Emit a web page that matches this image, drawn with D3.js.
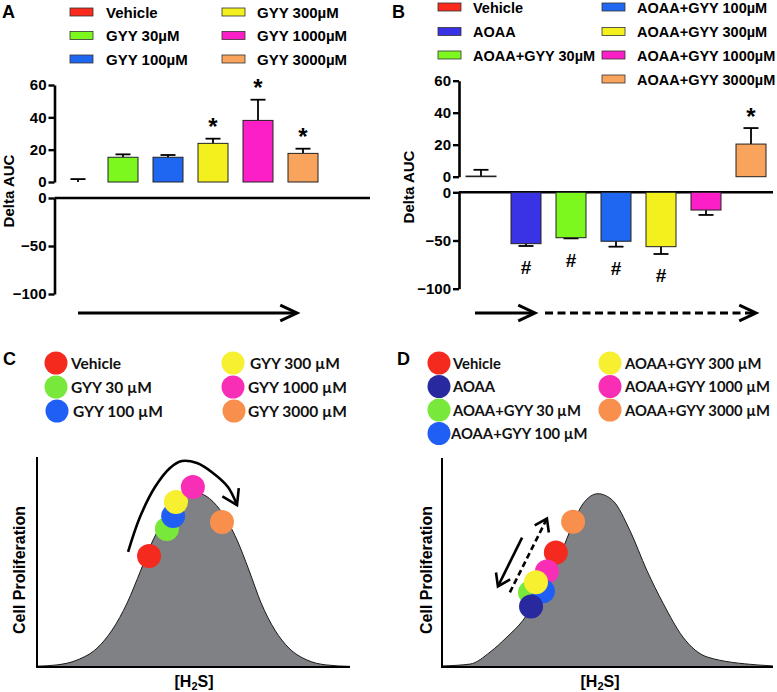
<!DOCTYPE html>
<html><head><meta charset="utf-8">
<script src="https://cdn.jsdelivr.net/npm/d3@7"></script>
<style>body{margin:0;background:#fff} svg{display:block}</style>
</head><body>
<svg id="chart" width="777" height="692"></svg>
<script>
// ---------- Data: panel A ----------
const catsA = ["Vehicle","GYY 30µM","GYY 100µM","GYY 300µM","GYY 1000µM","GYY 3000µM"];
const meanA = [0, 15.3, 15.3, 23.9, 38.1, 17.7];
const errA  = [1.8, 1.8, 1.4, 2.9, 12.8, 2.9];
const sigA  = ["", "", "", "*", "*", "*"];
const colorsA = ["#fb2a1c","#7cf81f","#1f66f0","#f4f01e","#fc1ec6","#f8a45c"];

// ---------- Data: panel B ----------
const catsB = ["Vehicle","AOAA","AOAA+GYY 30µM","AOAA+GYY 100µM","AOAA+GYY 300µM","AOAA+GYY 1000µM","AOAA+GYY 3000µM"];
const meanB = [0.4, -53.3, -47.1, -50.8, -56.4, -18.4, 20.4];
const errB  = [3.9, 2.4, 0.7, 5.6, 7.6, 5.1, 10];
const sigB  = ["", "#", "#", "#", "#", "", "*"];
const colorsB = ["#fb2a1c","#3a33e6","#7cf81f","#1f66f0","#f4f01e","#fc1ec6","#f8a45c"];

const ticksTop = [0, 20, 40, 60];
const ticksBottom = [-100, -50, 0];

// ---------- Data: panel C (schematic) ----------
const catsC = ["Vehicle","GYY 30 µM","GYY 100 µM","GYY 300 µM","GYY 1000 µM","GYY 3000 µM"];
const colorsC = ["#f42a1f","#78e83a","#1f5ff5","#f6f031","#f82fb6","#f98f4d"];
const ptsCx = [35.8, 41.5, 43.5, 44.4, 49.8, 59.1];
const ptsCy = [52.9, 65.7, 71.9, 78.6, 85.7, 69.0];
const curveCx = [0, 6.4, 12.8, 19.2, 24, 28.8, 33.2, 37.1, 43.1, 47.9, 51.1, 54, 58.5, 63.9, 67.7, 71.6, 76, 80.5, 86.3, 92.3, 100];
const curveCy = [0.4, 1, 3.3, 9, 17.6, 30.5, 46.2, 60.5, 74.8, 81.4, 82.9, 81.4, 74.8, 60.5, 46.2, 30.5, 17.6, 9, 3.3, 1, 0.3];
const arrowC = [[29.1,54.8],[32.9,71.4],[37.7,85.7],[42.5,94.8],[46.3,98.1],[51.1,97.1],[56.2,92.4],[61.0,85.7],[63.9,77.1]];

// ---------- Data: panel D (schematic) ----------
const catsD = ["Vehicle","AOAA","AOAA+GYY 30 µM","AOAA+GYY 100 µM","AOAA+GYY 300 µM","AOAA+GYY 1000 µM","AOAA+GYY 3000 µM"];
const colorsD = ["#f42a1f","#28289f","#78e83a","#1f5ff5","#f6f031","#f82fb6","#f98f4d"];
const ptsDx = [34.4, 26.9, 26.6, 30.5, 28.4, 31.7, 39.6];
const ptsDy = [54.8, 29.0, 35.7, 36.2, 40.5, 45.7, 69.5];
const drawOrderD = [6, 0, 5, 2, 3, 4, 1];
const curveDx = [0, 8.5, 14.5, 19.6, 24.5, 29.6, 34.7, 38.7, 42.6, 47.1, 51.7, 56.8, 61.9, 66.8, 72.8, 80.1, 95.2, 100];
const curveDy = [0.5, 1.4, 7.1, 14.3, 22.4, 35.2, 49.5, 65.2, 78.1, 82.9, 79.5, 65.2, 46.2, 30.5, 14.3, 4.8, 1, 0.5];
const arrowDsolid = [[24.2,61.9],[16.9,38.6]];
const arrowDdash = [[20.5,35.7],[31.7,71.0]];

// ---------- Drawing ----------
const svg = d3.select("#chart");
const ARIAL = "'Liberation Sans', Arial, Helvetica, sans-serif";
const CAL = "Lato, 'Open Sans', sans-serif";

function chevron(g, tip, angle, len, half, sw) {
  const a1 = angle + Math.PI - half, a2 = angle + Math.PI + half;
  const p = d3.path();
  p.moveTo(tip[0] + len*Math.cos(a1), tip[1] + len*Math.sin(a1));
  p.lineTo(tip[0], tip[1]);
  p.lineTo(tip[0] + len*Math.cos(a2), tip[1] + len*Math.sin(a2));
  g.append("path").attr("d", p.toString()).attr("fill","none").attr("stroke","#000")
    .attr("stroke-width", sw).attr("stroke-linejoin","miter").attr("stroke-linecap","butt");
}

function barPanel(cfg) {
  const g = svg.append("g");
  const x = d3.scaleBand().domain(cfg.cats).range(cfg.xRange).paddingInner(1/3).paddingOuter(1/6);
  const yT = d3.scaleLinear().domain([0, 60]).range(cfg.topRange);
  const yB = d3.scaleLinear().domain([-100, 0]).range(cfg.botRange);

  const axT = g.append("g").attr("transform", `translate(${cfg.axisX},0)`)
    .call(d3.axisLeft(yT).tickValues(ticksTop).tickSize(6).tickSizeOuter(0).tickPadding(2).tickFormat(d3.format("d")));
  const axB = g.append("g").attr("transform", `translate(${cfg.axisX},0)`)
    .call(d3.axisLeft(yB).tickValues(ticksBottom).tickSize(6).tickSizeOuter(0).tickPadding(2).tickFormat(d3.format("d")));
  [axT, axB].forEach(a => {
    a.select(".domain").attr("stroke-width", 2.6).attr("stroke","#000");
    a.selectAll(".tick line").attr("stroke-width", 2.4).attr("stroke","#000");
    a.selectAll(".tick text").attr("font-family", ARIAL).attr("font-weight","bold")
      .attr("font-size", 15).attr("fill","#000");
  });
  g.append("line").attr("x1", cfg.axisX).attr("x2", cfg.lineEnd)
    .attr("y1", yB(0)).attr("y2", yB(0)).attr("stroke","#000").attr("stroke-width", 2.6);

  g.append("text").attr("transform", `translate(${cfg.labelX},${cfg.labelY}) rotate(-90)`)
    .attr("text-anchor","middle").attr("font-family", ARIAL).attr("font-weight","bold")
    .attr("font-size", 15).text("Delta AUC");

  cfg.cats.forEach((c, i) => {
    const v = cfg.mean[i], e = cfg.err[i];
    const bx = x(c), bw = x.bandwidth(), cx = bx + bw/2;
    let top, bot, eEnd;
    if (v >= 0) { top = yT(v); bot = yT(0); eEnd = yT(v + e); }
    else { top = yB(0); bot = yB(v); eEnd = yB(v - e); }
    const eStart = v >= 0 ? top : bot;
    g.append("line").attr("x1", cx).attr("x2", cx).attr("y1", eStart).attr("y2", eEnd)
      .attr("stroke","#000").attr("stroke-width", 1.8);
    g.append("line").attr("x1", cx - bw/4).attr("x2", cx + bw/4).attr("y1", eEnd).attr("y2", eEnd)
      .attr("stroke","#000").attr("stroke-width", 1.8);
    if (v !== 0) {
      g.append("rect").attr("x", bx).attr("width", bw).attr("y", top).attr("height", Math.max(0, bot - top))
        .attr("fill", cfg.colors[i]).attr("stroke","#222").attr("stroke-width", 1);
    }
    const s = cfg.sig[i];
    if (s === "*") {
      g.append("text").attr("x", cx).attr("y", eEnd - 3.5).attr("text-anchor","middle")
        .attr("font-family", ARIAL).attr("font-weight","bold").attr("font-size", 24).text("*");
    } else if (s === "#") {
      g.append("text").attr("x", cx).attr("y", eEnd + 28.5).attr("text-anchor","middle")
        .attr("font-family", ARIAL).attr("font-weight","bold").attr("font-size", 19).text("#");
    }
  });

  cfg.legend.forEach(L => {
    const i = cfg.cats.indexOf(L.name);
    g.append("rect").attr("x", L.rx).attr("y", L.cy - 4).attr("width", 23).attr("height", 8)
      .attr("fill", cfg.colors[i]).attr("stroke","#333").attr("stroke-width", 0.8);
    g.append("text").attr("x", L.tx).attr("y", L.cy + 5.5).attr("font-family", ARIAL)
      .attr("font-weight","bold").attr("font-size", cfg.legendSize).text(L.name);
  });

  cfg.arrows.forEach(A => {
    const x1 = A.from(x), x2 = A.to(x);
    g.append("line").attr("x1", x1).attr("x2", x2 - 1).attr("y1", cfg.arrowY).attr("y2", cfg.arrowY)
      .attr("stroke","#000").attr("stroke-width", 3).attr("stroke-dasharray", A.dash ? "8,4.5" : null);
    chevron(g, [x2, cfg.arrowY], 0, 18.5, 0.44, 3);
  });
  return x;
}

barPanel({
  cats: catsA, mean: meanA, err: errA, sig: sigA, colors: colorsA,
  xRange: [55.5, 325.5], axisX: 54.5, topRange: [182, 85], botRange: [294, 198], lineEnd: 370,
  labelX: 14, labelY: 191, legendSize: 15, arrowY: 313,
  legend: [
    {name: catsA[0], rx: 70, tx: 106, cy: 12},
    {name: catsA[1], rx: 70, tx: 106, cy: 35.5},
    {name: catsA[2], rx: 70, tx: 106, cy: 59},
    {name: catsA[3], rx: 222, tx: 257, cy: 12},
    {name: catsA[4], rx: 222, tx: 257, cy: 35.5},
    {name: catsA[5], rx: 222, tx: 257, cy: 59}
  ],
  arrows: [
    {from: x => x(catsA[0]) + x.bandwidth()/2, to: x => x(catsA[5]) + x.bandwidth()*0.3, dash: false}
  ]
});

barPanel({
  cats: catsB, mean: meanB, err: errB, sig: sigB, colors: colorsB,
  xRange: [458.5, 773.5], axisX: 459, topRange: [176.7, 80.7], botRange: [288.7, 192.3], lineEnd: 773,
  labelX: 414, labelY: 187, legendSize: 14.5, arrowY: 313,
  legend: [
    {name: catsB[0], rx: 438, tx: 473, cy: 7},
    {name: catsB[1], rx: 438, tx: 473, cy: 31.5},
    {name: catsB[2], rx: 438, tx: 473, cy: 55},
    {name: catsB[3], rx: 602, tx: 637, cy: 7},
    {name: catsB[4], rx: 602, tx: 637, cy: 31.5},
    {name: catsB[5], rx: 602, tx: 637, cy: 55},
    {name: catsB[6], rx: 602, tx: 637, cy: 79}
  ],
  arrows: [
    {from: x => x(catsB[0]) + 9, to: x => x(catsB[1]) + x.bandwidth()/2 + 9, dash: false},
    {from: x => x(catsB[1]) + x.bandwidth() + 4, to: x => x(catsB[6]) + x.bandwidth()/2 + 5, dash: true}
  ]
});

[["A",2,18],["B",392,18],["C",3,365],["D",397,365]].forEach(([t,x,y]) => {
  svg.append("text").attr("x", x).attr("y", y).attr("font-family", ARIAL).attr("font-weight","bold")
    .attr("font-size", 18).text(t);
});

function curvePanel(cfg) {
  const g = svg.append("g");
  const x = d3.scaleLinear().domain([0, 100]).range(cfg.xRange);
  const y = d3.scaleLinear().domain([0, 100]).range([667, cfg.yTop]);
  const pts = cfg.cx.map((v, i) => [v, cfg.cy[i]]);
  g.append("path").datum(pts)
    .attr("d", d3.area().x(d => x(d[0])).y0(y(0)).y1(d => y(d[1])).curve(d3.curveMonotoneX))
    .attr("fill", "#808184");
  g.append("path").datum(pts)
    .attr("d", d3.line().x(d => x(d[0])).y(d => y(d[1])).curve(d3.curveMonotoneX))
    .attr("fill", "none").attr("stroke", "#1a1a1a").attr("stroke-width", 1);
  g.append("path").attr("d", `M${x(0)},${y(100)}V${y(0)}H${x(100)}`)
    .attr("fill","none").attr("stroke","#000").attr("stroke-width", 2);
  g.append("text").attr("transform", `translate(${cfg.ylabX},570) rotate(-90)`).attr("text-anchor","middle")
    .attr("font-family", ARIAL).attr("font-weight","bold").attr("font-size", 16).text("Cell Proliferation");
  const t = g.append("text").attr("x", cfg.xlabX).attr("y", 687).attr("text-anchor","middle")
    .attr("font-family", ARIAL).attr("font-weight","bold").attr("font-size", 16);
  t.append("tspan").text("[H");
  t.append("tspan").attr("font-size", 11).attr("dy", 3).text("2");
  t.append("tspan").attr("dy", -3).text("S]");
  cfg.arrows.forEach(A => {
    const p = A.pts.map(d => [x(d[0]), y(d[1])]);
    g.append("path").attr("d", d3.line().curve(d3.curveCatmullRom)(p))
      .attr("fill","none").attr("stroke","#000").attr("stroke-width", 2.6)
      .attr("stroke-dasharray", A.dash ? "6,3.5" : null);
    const n = p.length, a = Math.atan2(p[n-1][1] - p[n-2][1], p[n-1][0] - p[n-2][0]);
    chevron(g, p[n-1], a, A.len, A.half, 2.6);
  });
  cfg.order.forEach(i => {
    g.append("circle").attr("cx", x(cfg.px[i])).attr("cy", y(cfg.py[i])).attr("r", 12)
      .attr("fill", cfg.colors[i]);
  });
  cfg.legend.forEach(L => {
    const i = cfg.cats.indexOf(L.name);
    g.append("circle").attr("cx", L.ccx).attr("cy", L.cy).attr("r", 11.5).attr("fill", cfg.colors[i]);
    g.append("text").attr("x", L.tx).attr("y", L.cy + 5.5).attr("font-family", CAL)
      .attr("font-weight","bold").attr("font-size", cfg.legendSize).attr("fill","#111").text(L.name);
  });
}

curvePanel({
  xRange: [37, 350], yTop: 457, cx: curveCx, cy: curveCy, px: ptsCx, py: ptsCy,
  colors: colorsC, cats: catsC, order: [0,1,2,3,4,5], ylabX: 25, xlabX: 194, legendSize: 15.5,
  arrows: [{pts: arrowC, dash: false, len: 17, half: 0.57}],
  legend: [
    {name: catsC[0], ccx: 56, tx: 71, cy: 363},
    {name: catsC[1], ccx: 56, tx: 71, cy: 387},
    {name: catsC[2], ccx: 57, tx: 73, cy: 411},
    {name: catsC[3], ccx: 233, tx: 250, cy: 363},
    {name: catsC[4], ccx: 233, tx: 248, cy: 387},
    {name: catsC[5], ccx: 234, tx: 248, cy: 411}
  ]
});

curvePanel({
  xRange: [442, 773], yTop: 458, cx: curveDx, cy: curveDy, px: ptsDx, py: ptsDy,
  colors: colorsD, cats: catsD, order: drawOrderD, ylabX: 432, xlabX: 600, legendSize: 14.8,
  arrows: [{pts: arrowDsolid, dash: false, len: 14, half: 0.6}, {pts: arrowDdash, dash: true, len: 14, half: 0.6}],
  legend: [
    {name: catsD[0], ccx: 439, tx: 453, cy: 363},
    {name: catsD[1], ccx: 439, tx: 453, cy: 386.5},
    {name: catsD[2], ccx: 439, tx: 453, cy: 410},
    {name: catsD[3], ccx: 439, tx: 451, cy: 433.5},
    {name: catsD[4], ccx: 610, tx: 625, cy: 363},
    {name: catsD[5], ccx: 610, tx: 625, cy: 386.5},
    {name: catsD[6], ccx: 610, tx: 625, cy: 410}
  ]
});
</script>
</body></html>
